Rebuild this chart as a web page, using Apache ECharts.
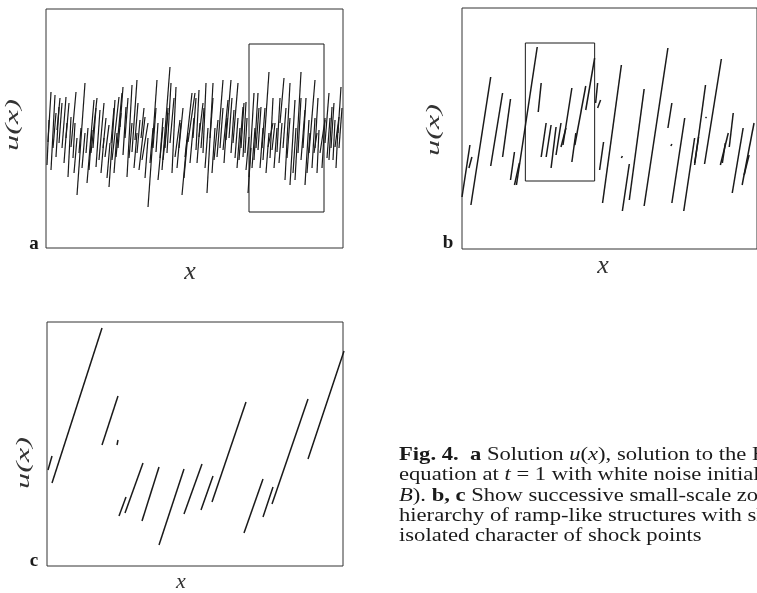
<!DOCTYPE html>
<html>
<head>
<meta charset="utf-8">
<script src="https://cdn.jsdelivr.net/npm/echarts@6/dist/echarts.min.js"></script>
<style>
  html, body { margin: 0; padding: 0; background: #fff; }
  #main { width: 757px; height: 593px; }
</style>
</head>
<body>
<div id="main"></div>
<script>
// ramp segments [x0, y0, x1, y1] (panel units, origin bottom-left)
var aSegs = [
  [2,106,5,156],[5,78,9,153],[10,91,13,141],[13,105,16,145],[16,100,20,151],
  [22,71,25,131],[25,101,30,156],[31,53,39,165],[40,95,42,120],[41,65,48,148],
  [45,95,51,150],[50,81,54,138],[53,88,58,145],[59,91,63,123],[63,61,69,148],
  [66,88,73,151],[70,91,76,155],[74,121,77,161],[77,93,80,141],[81,71,86,163],
  [86,96,91,168],[89,108,92,145],[93,78,99,131],[96,88,102,125],[102,41,111,168],
  [110,96,112,125],[112,68,117,121],[116,78,124,181],[117,88,122,135],[126,75,130,161],
  [129,91,134,128],[136,53,141,108],[139,91,146,155],[142,106,149,155],[150,98,153,158],
  [153,111,157,145],[157,95,160,165],[161,55,167,165],[168,88,172,128],[171,91,177,168],
  [177,98,182,148],[180,108,185,168],[185,95,188,138],[187,105,192,165],[193,88,197,141],
  [197,91,200,146],[200,78,203,111],[203,71,208,155],[208,88,212,155],[212,98,215,141],
  [217,88,223,176],[222,101,227,125],[226,98,229,125],[231,96,234,150],[234,125,238,170],
  [239,68,244,165],[244,63,249,148],[249,68,255,176],[255,88,259,138],[259,63,263,128],
  [263,95,269,168],[268,95,271,115],[271,75,273,118],[274,95,279,128],[279,105,283,155],
  [283,88,286,141],[287,88,289,128],[289,101,293,131],[292,115,295,161],
  // shorter strokes filling the band
  [1,83,3,128],[7,100,10,135],[11,118,14,150],[18,85,21,125],[20,110,23,145],
  [27,90,29,125],[28,75,31,110],[33,95,35,120],[36,80,39,115],[43,78,46,118],
  [47,100,50,140],[55,75,58,110],[57,100,60,130],[61,70,64,105],[65,105,68,140],
  [68,75,71,115],[72,100,75,135],[79,110,82,150],[83,90,86,125],[88,80,91,115],
  [91,95,94,128],[95,110,98,140],[99,70,102,110],[104,85,107,120],[107,100,110,140],
  [114,90,117,130],[119,100,122,140],[121,95,125,165],[124,105,128,150],[131,80,135,125],
  [133,100,137,140],[138,70,142,115],[144,85,148,130],[147,110,150,150],[151,85,154,125],
  [155,100,158,140],[159,80,162,120],[164,110,167,150],[166,75,169,120],[174,100,177,140],
  [178,85,181,130],[183,110,186,150],[189,90,192,130],[191,80,194,120],[195,100,198,145],
  [199,95,201,130],[202,55,205,100],[206,80,209,120],[210,100,213,140],[214,80,217,120],
  [216,100,219,140],[220,75,223,115],[224,90,227,150],[228,80,231,120],[233,85,236,125],
  [237,100,240,140],[241,90,244,130],[247,75,250,120],[252,95,255,150],[257,100,260,150],
  [261,75,264,115],[266,80,269,130],[269,100,272,150],[276,80,279,130],[281,90,284,130],
  [285,100,288,145],[290,80,292,120],[293,100,296,140]
];
var bSegs = [
  [0,52,8,104],[7,81,10,92],[9,44,29,172],[29,83,41,156],[41,92,49,150],
  [49,69,53,97],[53,64,58,86],[55,64,76,202],[77,137,80,166],[80,92,85,126],
  [85,92,90,124],[90,81,95,122],[95,94,100,126],[100,102,105,121],[102,104,111,161],
  [111,87,115,116],[114,104,125,163],[125,139,134,191],[135,146,137,166],[137,141,140,149],
  [139,79,143,107],[142,46,161,184],[161,91,162,93],[162,38,169,85],[169,49,184,160],
  [184,43,208,201],[208,121,212,146],[211,103,212,105],[212,46,225,131],[224,38,235,111],
  [235,86,239,112],[235,84,246,164],[246,131,247,132],[245,85,262,190],[261,84,269,116],
  [263,86,266,106],[270,102,274,136],[273,56,284,121],[283,64,295,126],[285,74,290,94]
];
var cSegs = [
  [1,96,5,110],[5,83,55,238],[55,121,71,170],[70,121,71,126],[72,50,79,69],
  [78,53,96,103],[95,45,112,99],[112,21,137,97],[137,52,155,102],[154,56,166,90],
  [165,64,199,164],[197,33,216,87],[216,49,226,79],[225,62,261,167],[261,107,297,215]
];
// zoom boxes [x0, y0, x1, y1]
var aBox = [203, 36, 278, 204];
var bBox = [64, 68, 134, 206];

var captionLines = [
  '{b|Fig. 4.}  {b|a} Solution {i|u}({i|x}), solution to the Burgers',
  'equation at {i|t} = 1 with white noise initial',
  '{i|B}). {b|b, c} Show successive small-scale zooms',
  'hierarchy of ramp-like structures with shocks',
  'isolated character of shock points'
];

var ink = '#1a1a1a';
var serif = '"Liberation Serif", "DejaVu Serif", serif';

function segData(segs) {
  return segs.map(function (s) {
    return { coords: [[s[0], s[1]], [s[2], s[3]]] };
  });
}
function boxData(b) {
  return [{ coords: [[b[0], b[1]], [b[2], b[1]], [b[2], b[3]], [b[0], b[3]], [b[0], b[1]]] }];
}

var grids = [
  { left: 46, top: 9, width: 297, height: 239 },
  { left: 462, top: 8, width: 298, height: 241 },
  { left: 47, top: 322, width: 296, height: 244 }
];

var xAxes = [], yAxes = [];
grids.forEach(function (g, i) {
  g.show = true;
  g.borderColor = '#333';
  g.borderWidth = 1;
  g.containLabel = false;
  xAxes.push({ type: 'value', gridIndex: i, min: 0, max: g.width, show: false });
  yAxes.push({ type: 'value', gridIndex: i, min: 0, max: g.height, show: false });
});

function segSeries(segs, i, w, poly) {
  return {
    type: 'lines',
    coordinateSystem: 'cartesian2d',
    xAxisIndex: i,
    yAxisIndex: i,
    polyline: !!poly,
    silent: true,
    lineStyle: { color: ink, width: w, opacity: 1 },
    data: segs
  };
}

var labels = [];
function txt(x, y, text, size, extra) {
  var el = {
    type: 'text',
    x: x,
    y: y,
    style: {
      text: text,
      fontFamily: serif,
      fontSize: size,
      fill: ink,
      align: 'center',
      verticalAlign: 'middle',
      textAlign: 'center',
      textVerticalAlign: 'middle'
    }
  };
  for (var k in extra) {
    if (k === 'style') {
      for (var s in extra.style) el.style[s] = extra.style[s];
    } else {
      el[k] = extra[k];
    }
  }
  labels.push(el);
}

// panel letters
txt(34, 244, 'a', 19, { style: { fontWeight: 'bold' } });
txt(448, 243, 'b', 19, { style: { fontWeight: 'bold' } });
txt(34, 561, 'c', 19, { style: { fontWeight: 'bold' } });
// axis names
txt(13, 125, 'u(x)', 19, { rotation: Math.PI / 2, scaleX: 1.7, style: { fontStyle: 'italic', fill: '#333' } });
txt(434, 130, 'u(x)', 19, { rotation: Math.PI / 2, scaleX: 1.7, style: { fontStyle: 'italic', fill: '#333' } });
txt(24, 463, 'u(x)', 19, { rotation: Math.PI / 2, scaleX: 1.7, style: { fontStyle: 'italic', fill: '#333' } });
txt(190, 272, 'x', 26, { style: { fontStyle: 'italic', fill: '#333' } });
txt(603, 266, 'x', 26, { style: { fontStyle: 'italic', fill: '#333' } });
txt(181, 582, 'x', 22, { style: { fontStyle: 'italic', fill: '#333' } });

// caption
var capY = [455, 475, 496, 516, 536];
captionLines.forEach(function (line, i) {
  labels.push({
    type: 'text',
    x: 399,
    y: capY[i],
    scaleX: 1.19,
    style: {
      text: line,
      fontFamily: serif,
      fontSize: 19,
      fill: ink,
      align: 'left',
      verticalAlign: 'middle',
      textAlign: 'left',
      textVerticalAlign: 'middle',
      rich: {
        b: { fontFamily: serif, fontSize: 19, fontWeight: 'bold', fill: ink },
        i: { fontFamily: serif, fontSize: 19, fontStyle: 'italic', fill: ink }
      }
    }
  });
});

var chart = echarts.init(document.getElementById('main'));
chart.setOption({
  animation: false,
  backgroundColor: '#fff',
  grid: grids,
  xAxis: xAxes,
  yAxis: yAxes,
  series: [
    segSeries(segData(aSegs), 0, 1.2),
    segSeries(boxData(aBox), 0, 1, true),
    segSeries(segData(bSegs), 1, 1.5),
    segSeries(boxData(bBox), 1, 1, true),
    segSeries(segData(cSegs), 2, 1.5)
  ],
  graphic: labels
});
</script>
</body>
</html>
